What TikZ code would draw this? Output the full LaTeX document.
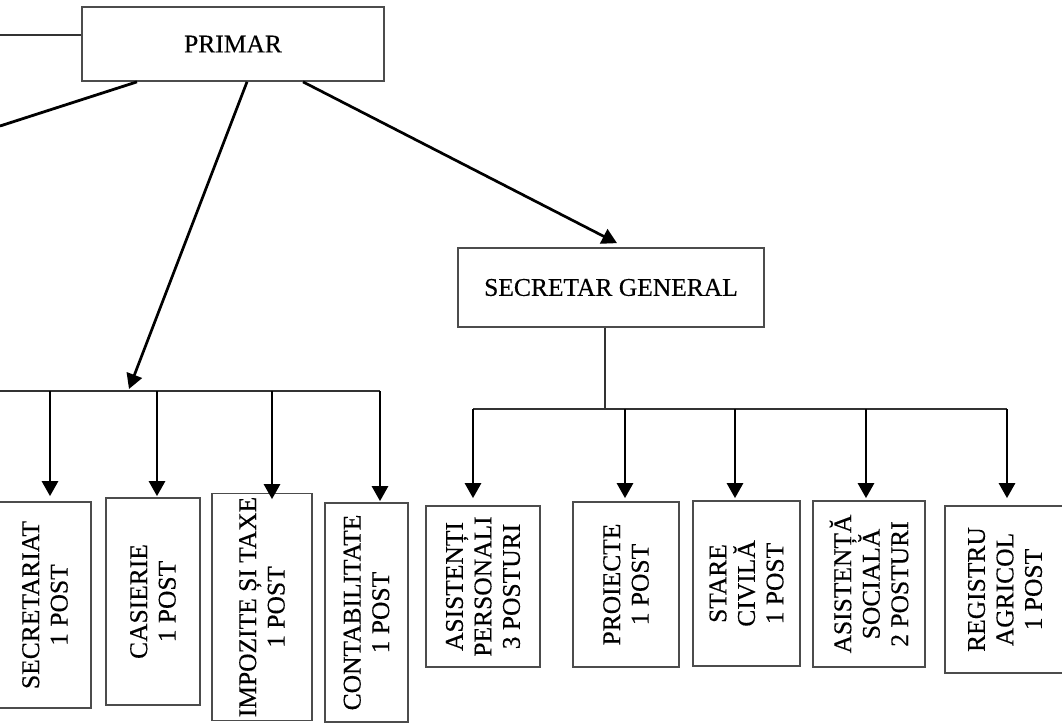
\documentclass[tikz,border=0pt]{standalone}
\usepackage{fontspec}
\setmainfont{Liberation Serif}
\newfontfamily\scanfont[FakeBold=0.3]{Liberation Serif}
\usetikzlibrary{arrows.meta}
\begin{document}
\begin{tikzpicture}[x=1pt,y=-1pt,
  box/.style={draw=black!70, line width=1.7pt, inner sep=0pt, align=center, font=\scanfont\fontsize{25.5}{28.5}\selectfont},
  vbox/.style={box, rotate=90},
  conn/.style={draw=black!80, line width=1.6pt},
  arr/.style={draw=black, line width=2.7pt, -{Triangle[length=15pt,width=16pt]}},
  diag/.style={draw=black, line width=2.8pt}]
\useasboundingbox (0,0) rectangle (1062,724);
\clip (0,0) rectangle (1062,724);

\node[box, minimum width=302pt, minimum height=74pt] (primar) at (233,44) {PRIMAR};
\node[box, minimum width=306pt, minimum height=79pt] (sg) at (611,287.5) {SECRETAR GENERAL};

\node[vbox, minimum width=206pt, minimum height=92pt] (sec) at (45,605) {SECRETARIAT\\1 POST};
\node[vbox, minimum width=207pt, minimum height=94pt] (cas) at (153,601.5) {CASIERIE\\1 POST};
\node[vbox, minimum width=227pt, minimum height=100pt] (imp) at (262,607) {IMPOZITE ȘI TAXE\\1 POST};
\node[vbox, minimum width=219pt, minimum height=83pt] (con) at (366.5,612.5) {CONTABILITATE\\1 POST};
\node[vbox, minimum width=161pt, minimum height=114pt] (asp) at (483,586.5) {ASISTENȚI\\PERSONALI\\3 POSTURI};
\node[vbox, minimum width=165pt, minimum height=106pt] (pro) at (626,584.5) {PROIECTE\\1 POST};
\node[vbox, minimum width=165pt, minimum height=107pt] (sc) at (746.5,583.5) {STARE\\CIVILĂ\\1 POST};
\node[vbox, minimum width=166pt, minimum height=112pt] (as) at (869,584) {ASISTENȚĂ\\SOCIALĂ\\2 POSTURI};
\node[vbox, minimum width=167pt, minimum height=120pt] (reg) at (1005,589.5) {REGISTRU\\AGRICOL\\1 POST};

\coordinate (l1) at (0,35);
\coordinate (l2) at (0,126);
\coordinate (lb) at (0,391);
\coordinate (rb) at (0,409);
\coordinate (tipL) at (129,389);
\coordinate (sgs) at ([xshift=-6pt]sg.south);

\coordinate (tS) at ([xshift=5pt,yshift=5pt]sec.east);
\coordinate (tC) at ([xshift=4pt,yshift=1pt]cas.east);
\coordinate (tI) at ([xshift=10pt,yshift=-6.5pt]imp.east);
\coordinate (tK) at ([xshift=13.5pt,yshift=1pt]con.east);
\coordinate (tA) at ([xshift=-10pt,yshift=7pt]asp.east);
\coordinate (tP) at ([xshift=-1pt,yshift=3pt]pro.east);
\coordinate (tSC) at ([xshift=-11.5pt,yshift=2pt]sc.east);
\coordinate (tAS) at ([xshift=-3pt,yshift=2pt]as.east);
\coordinate (tR) at ([xshift=2pt,yshift=7pt]reg.east);

\draw[conn] (l1) -- (l1 -| primar.west);
\draw[diag] ([xshift=-96pt]primar.south) -- (l2);
\draw[arr] ([xshift=14pt]primar.south) -- (tipL);
\draw[arr] ([xshift=70pt]primar.south) -- ([xshift=6pt,yshift=4pt]sg.north);

\draw[conn] (lb) -- (tK |- lb);
\draw[conn] (sgs) -- (sgs |- rb);
\draw[conn] (tA |- rb) -- (tR |- rb);

\foreach \t in {tS,tC,tI,tK}{\draw[arr] (\t |- lb) -- (\t);}
\foreach \t in {tA,tP,tSC,tAS,tR}{\draw[arr] (\t |- rb) -- (\t);}
\end{tikzpicture}
\end{document}
